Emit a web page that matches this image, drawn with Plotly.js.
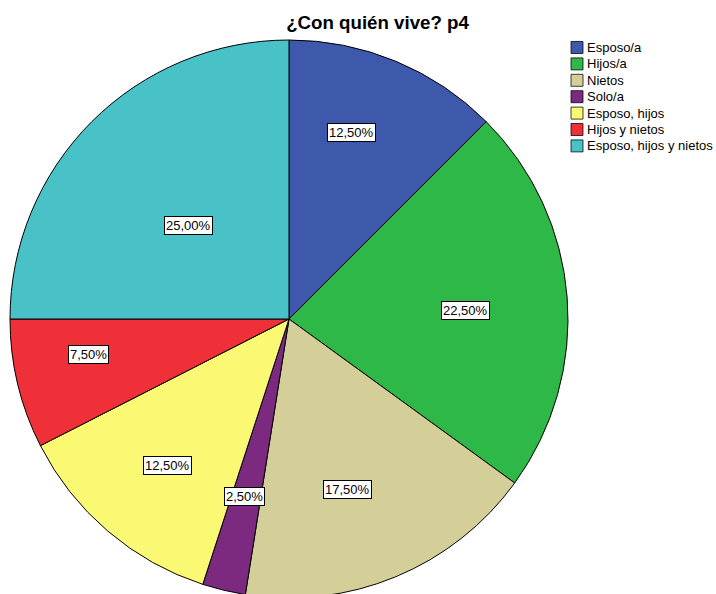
<!DOCTYPE html>
<html>
<head>
<meta charset="utf-8">
<script src="https://cdn.plot.ly/plotly-3.0.1.min.js"></script>
<style>html,body{margin:0;padding:0;overflow:hidden;background:#fff;}</style>
</head>
<body>
<div id="chart"></div>
<script>
const categories = ["Esposo/a", "Hijos/a", "Nietos", "Solo/a", "Esposo, hijos", "Hijos y nietos", "Esposo, hijos y nietos"];
const values = [12.5, 22.5, 17.5, 2.5, 12.5, 7.5, 25.0];
const percentLabels = ["12,50%", "22,50%", "17,50%", "2,50%", "12,50%", "7,50%", "25,00%"];
const colors = ["#3E58AC", "#2EB848", "#D4CE98", "#7B2A80", "#FBF873", "#EF3038", "#48C1C7"];

// label placement tweaks (fraction of radius, degrees shift from slice middle)
const labelRadius = [0.704, 0.633, 0.648, 0.654, 0.682, 0.731, 0.49];
const labelAngleShift = [-3.8, 1.7, 3.5, 0.5, -1.0, 3.6, -2.1];

const FONT = 'Arial, "Liberation Sans", sans-serif';
const W = 716, H = 598;
const M = {l: 10, r: 0, t: 40, b: 0};
const plotW = W - M.l - M.r, plotH = H - M.t - M.b;
const R = plotH / 2;
const cx = M.l + R, cy = M.t + R;
const toPX = px => (px - M.l) / plotW;
const toPY = py => (H - M.b - py) / plotH;

const total = values.reduce((a, b) => a + b, 0);
let cum = 0;
const annotations = values.map((v, i) => {
  const mid = ((cum + v / 2) / total * 360 + labelAngleShift[i]) * Math.PI / 180;
  cum += v;
  const k = labelRadius[i];
  const px = cx + k * R * Math.sin(mid);
  const py = cy - k * R * Math.cos(mid);
  return {
    text: percentLabels[i], xref: 'paper', yref: 'paper',
    x: toPX(px), y: toPY(py), xanchor: 'center', yanchor: 'middle',
    showarrow: false, bgcolor: '#ffffff', bordercolor: '#000000', borderwidth: 1, borderpad: 1,
    font: {family: FONT, size: 13, color: '#000'}
  };
});

// legend (built from categories / colors)
const legX = 571, legY0 = 47.5, legStep = 16.4, sw = 12;
const shapes = [];
categories.forEach((c, i) => {
  const yc = legY0 + i * legStep;
  shapes.push({type: 'rect', xref: 'paper', yref: 'paper',
    x0: toPX(legX), x1: toPX(legX + sw), y0: toPY(yc - sw / 2), y1: toPY(yc + sw / 2),
    fillcolor: colors[i], line: {color: 'rgba(0,0,0,0.75)', width: 1}});
  annotations.push({text: c, xref: 'paper', yref: 'paper', x: toPX(legX + sw + 2.5), y: toPY(yc),
    xanchor: 'left', yanchor: 'middle', showarrow: false, borderpad: 0,
    font: {family: FONT, size: 13, color: '#000'}});
});

const trace = {
  type: 'pie', labels: categories, values: values, sort: false, direction: 'clockwise', rotation: 0,
  marker: {colors: colors, line: {color: '#000000', width: 1}},
  textinfo: 'none', hoverinfo: 'label+percent',
  domain: {x: [0, 2 * R / plotW], y: [0, 1]}
};

const layout = {
  width: W, height: H, margin: M,
  paper_bgcolor: '#fff', plot_bgcolor: '#fff',
  font: {family: FONT, size: 11, color: '#000'},
  title: {text: '<b>¿Con quién vive? p4</b>', x: 377.5 / W, xanchor: 'center', y: 1 - 22 / H, yanchor: 'middle',
          font: {family: FONT, size: 18.7, color: '#000'}},
  showlegend: false,
  shapes: shapes,
  annotations: annotations
};

Plotly.newPlot('chart', [trace], layout, {displayModeBar: false, staticPlot: true});
</script>
</body>
</html>
